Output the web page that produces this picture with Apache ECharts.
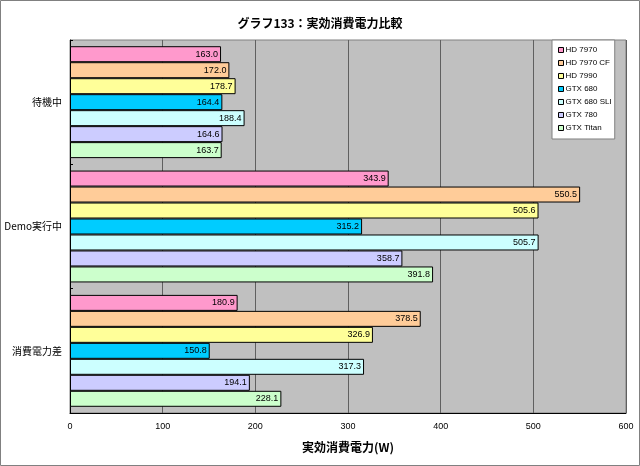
<!DOCTYPE html>
<html>
<head>
<meta charset="utf-8">
<script src="https://cdn.jsdelivr.net/npm/echarts@6/dist/echarts.min.js"></script>
<style>
  html, body { margin: 0; padding: 0; background: #fff; }
  #chart { width: 640px; height: 466px; }
</style>
</head>
<body>
<div id="chart"></div>
<script>
  const categories = ['待機中', 'Demo実行中', '消費電力差'];
  const seriesNames = ['HD 7970', 'HD 7970 CF', 'HD 7990', 'GTX 680', 'GTX 680 SLI', 'GTX 780', 'GTX Titan'];
  const hd7970 = [163.0, 343.9, 180.9];
  const hd7970cf = [172.0, 550.5, 378.5];
  const hd7990 = [178.7, 505.6, 326.9];
  const gtx680 = [164.4, 315.2, 150.8];
  const gtx680sli = [188.4, 505.7, 317.3];
  const gtx780 = [164.6, 358.7, 194.1];
  const gtxTitan = [163.7, 391.8, 228.1];
  const xTicks = [0, 100, 200, 300, 400, 500, 600];

  const values = [hd7970, hd7970cf, hd7990, gtx680, gtx680sli, gtx780, gtxTitan];
  const colors = ['#FF99CC', '#FFCC99', '#FFFF99', '#00CCFF', '#CCFFFF', '#CCCCFF', '#CCFFCC'];

  const chart = echarts.init(document.getElementById('chart'));
  const font = '"Liberation Sans", Arial, "Noto Sans CJK JP", sans-serif';

  chart.setOption({
    animation: false,
    textStyle: { fontFamily: font },
    title: {
      text: 'グラフ133：実効消費電力比較',
      left: 'center',
      top: 12,
      textStyle: { fontSize: 12, fontWeight: 'bold', color: '#000', fontFamily: '"Noto Sans CJK JP", sans-serif' },
    },
    graphic: [{
      type: 'rect',
      shape: { x: 0.5, y: 0.5, width: 639, height: 465 },
      style: { fill: 'none', stroke: '#808080', lineWidth: 1 },
      z: 100,
    }],
    legend: {
      orient: 'vertical',
      left: 552,
      top: 40,
      width: 76,
      padding: [6, 3, 7, 6],
      itemGap: 5,
      itemWidth: 5,
      itemHeight: 5,
      icon: 'rect',
      backgroundColor: '#fff',
      borderColor: '#808080',
      borderWidth: 1,
      z: 10,
      itemStyle: { borderColor: '#000', borderWidth: 1 },
      textStyle: { fontSize: 8, color: '#000', padding: [0, 0, 0, -3] },
      data: seriesNames,
    },
    grid: {
      left: 70,
      right: 14,
      top: 40,
      bottom: 53,
      outerBoundsMode: 'none',
      show: true,
      backgroundColor: '#C0C0C0',
      borderColor: '#808080',
      borderWidth: 1,
    },
    xAxis: {
      type: 'value',
      min: xTicks[0],
      max: xTicks[xTicks.length - 1],
      interval: 100,
      name: '実効消費電力(W)',
      nameLocation: 'middle',
      nameGap: 28,
      nameTextStyle: { fontSize: 12, fontWeight: 'bold', color: '#000', fontFamily: '"Noto Sans CJK JP", sans-serif' },
      axisLine: { show: true, lineStyle: { color: '#000' } },
      axisTick: { show: false },
      axisLabel: { color: '#000', fontSize: 9, margin: 9 },
      splitLine: { show: true, lineStyle: { color: '#606060' } },
    },
    yAxis: {
      type: 'category',
      inverse: true,
      data: categories,
      axisLine: { show: true, lineStyle: { color: '#000' } },
      axisTick: { show: true, inside: true, length: 3, lineStyle: { color: '#000' } },
      axisLabel: { color: '#000', fontSize: 10, margin: 8, fontFamily: '"Noto Sans CJK JP", sans-serif' },
      splitLine: { show: false },
    },
    series: seriesNames.map((name, i) => ({
      name,
      type: 'bar',
      data: values[i],
      barCategoryGap: '10%',
      barGap: '0%',
      itemStyle: { color: colors[i], borderColor: '#000', borderWidth: 1 },
      label: {
        show: true,
        position: 'insideRight',
        distance: 3,
        color: '#000',
        fontSize: 9,
        formatter: p => p.value.toFixed(1),
      },
    })),
  });
</script>
</body>
</html>
